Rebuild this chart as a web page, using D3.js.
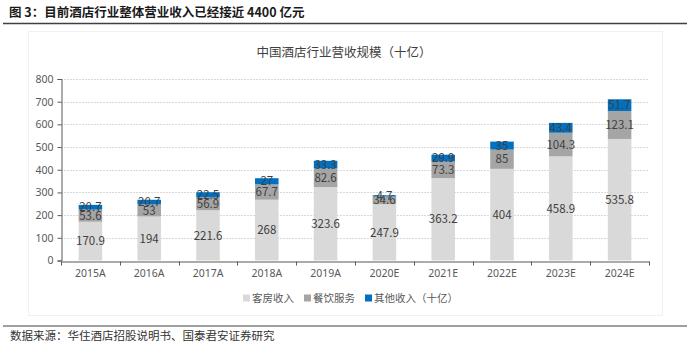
<!DOCTYPE html>
<html>
<head>
<meta charset="utf-8">
<script src="https://cdn.jsdelivr.net/npm/d3@7"></script>
<style>
  html, body { margin: 0; padding: 0; background: #fff; }
  svg { display: block; font-family: "Noto Sans CJK SC", "Noto Sans", sans-serif; }
</style>
</head>
<body>
<svg id="chart" width="700" height="345"></svg>
<script>
// Hotel industry revenue by segment (billion yuan)
const categories = ["2015A", "2016A", "2017A", "2018A", "2019A", "2020E", "2021E", "2022E", "2023E", "2024E"];
const roomRevenue = [170.9, 194, 221.6, 268, 323.6, 247.9, 363.2, 404, 458.9, 535.8];
const foodRevenue = [53.6, 53, 56.9, 67.7, 82.6, 34.6, 73.3, 85, 104.3, 123.1];
const otherRevenue = [20.7, 20.7, 22.5, 27, 33.3, 4.7, 29.9, 35, 43.4, 51.7];
const seriesNames = ["客房收入", "餐饮服务", "其他收入（十亿）"];
const yTicks = [0, 100, 200, 300, 400, 500, 600, 700, 800];

const colors = ["#d9d9d9", "#a5a5a5", "#0070c0"];

const svg = d3.select("#chart");

// Report header and footer
svg.append("text")
  .attr("x", 9).attr("y", 17)
  .attr("font-size", 12.5).attr("font-weight", "bold").attr("fill", "#1a1a1a")
  .text("图 3：目前酒店行业整体营业收入已经接近 4400 亿元");
svg.append("line")
  .attr("x1", 3).attr("x2", 687).attr("y1", 23.5).attr("y2", 23.5)
  .attr("stroke", "#404040").attr("stroke-width", 1.6);
svg.append("line")
  .attr("x1", 3).attr("x2", 687).attr("y1", 326).attr("y2", 326)
  .attr("stroke", "#404040").attr("stroke-width", 1);
svg.append("text")
  .attr("x", 10).attr("y", 340)
  .attr("font-size", 11.5).attr("fill", "#333")
  .text("数据来源：华住酒店招股说明书、国泰君安证券研究");

// Chart frame
svg.append("rect")
  .attr("x", 28.5).attr("y", 31.5).attr("width", 634).attr("height", 284)
  .attr("fill", "none").attr("stroke", "#f0f0f0");

svg.append("text")
  .attr("x", 344).attr("y", 57)
  .attr("text-anchor", "middle")
  .attr("font-size", 12.5).attr("fill", "#404040")
  .text("中国酒店行业营收规模（十亿）");

const x = d3.scaleBand()
  .domain(categories)
  .range([61, 649])
  .paddingInner(0.6)
  .paddingOuter(0.3);

const y = d3.scaleLinear()
  .domain([0, 800])
  .range([260.5, 79]);

// Gridlines
svg.append("g")
  .selectAll("line")
  .data(yTicks.filter(d => d > 0))
  .join("line")
  .attr("x1", 61).attr("x2", 649)
  .attr("y1", d => Math.round(y(d)) + 0.5).attr("y2", d => Math.round(y(d)) + 0.5)
  .attr("stroke", "#d9d9d9").attr("stroke-dasharray", "2,1");

// Stacked bars
const rows = categories.map((c, i) => ({
  cat: c,
  room: roomRevenue[i],
  food: foodRevenue[i],
  other: otherRevenue[i]
}));
const stack = d3.stack().keys(["room", "food", "other"]);
const layers = stack(rows);

const layerG = svg.append("g")
  .selectAll("g")
  .data(layers)
  .join("g")
  .attr("fill", (d, i) => colors[i]);

layerG.selectAll("rect")
  .data(d => d)
  .join("rect")
  .attr("x", d => x(d.data.cat))
  .attr("width", x.bandwidth())
  .attr("y", d => y(d[1]))
  .attr("height", d => y(d[0]) - y(d[1]));

// Segment value labels
layerG.selectAll("text")
  .data(d => d.map(p => ({ p, key: d.key })))
  .join("text")
  .attr("x", d => x(d.p.data.cat) + x.bandwidth() / 2)
  .attr("y", d => y((d.p[0] + d.p[1]) / 2))
  .attr("dy", "0.36em")
  .attr("text-anchor", "middle")
  .attr("font-size", 11.5)
  .attr("fill", "#404040")
  .text(d => d.p.data[d.key]);

// Y axis
const yAxis = svg.append("g")
  .attr("transform", "translate(61.5,0)")
  .call(d3.axisLeft(y).tickValues(yTicks).tickSize(4).tickPadding(4));
yAxis.select(".domain").attr("stroke", "#595959");
yAxis.selectAll(".tick line").attr("stroke", "#595959");
yAxis.selectAll(".tick text")
  .attr("font-size", 10.5).attr("fill", "#595959")
  .attr("font-family", "'Noto Sans', sans-serif");

// X axis with ticks at category boundaries
const xAxis = svg.append("g")
  .attr("transform", `translate(0,${Math.round(y(0)) + 0.5})`)
  .call(d3.axisBottom(x).tickSize(0).tickPadding(8));
xAxis.select(".domain").attr("stroke", "#595959");
xAxis.selectAll(".tick text")
  .attr("font-size", 10.5).attr("fill", "#595959")
  .attr("font-family", "'Noto Sans', sans-serif");
const gap = (x.step() - x.bandwidth()) / 2;
const boundaries = categories.map(c => x(c) - gap).concat([x(categories[categories.length - 1]) + x.bandwidth() + gap]);
xAxis.selectAll(".bound")
  .data(boundaries)
  .join("line")
  .attr("class", "bound")
  .attr("x1", d => Math.round(d) + 0.5).attr("x2", d => Math.round(d) + 0.5)
  .attr("y1", 0).attr("y2", 4)
  .attr("stroke", "#595959");

// Legend
const legendX = [243, 304, 365];
const legend = svg.append("g")
  .selectAll("g")
  .data(seriesNames)
  .join("g")
  .attr("transform", (d, i) => `translate(${legendX[i]},298)`);
legend.append("rect")
  .attr("x", 0).attr("y", -3.5).attr("width", 7).attr("height", 7)
  .attr("fill", (d, i) => colors[i]);
legend.append("text")
  .attr("x", 9).attr("dy", "0.36em")
  .attr("font-size", 10.5).attr("fill", "#595959")
  .text(d => d);
</script>
</body>
</html>
